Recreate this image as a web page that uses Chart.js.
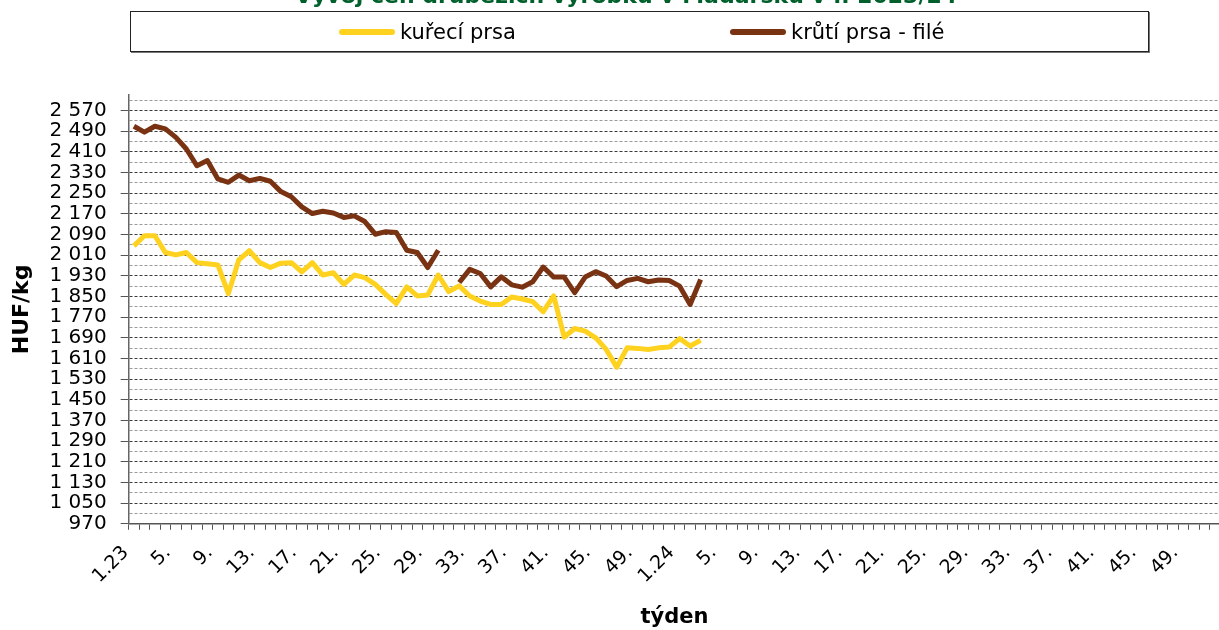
<!DOCTYPE html>
<html lang="cs">
<head>
<meta charset="utf-8">
<title>Vývoj cen drůbežích výrobků v Maďarsku</title>
<script src="https://cdn.jsdelivr.net/npm/chart.js@4/dist/chart.umd.min.js"></script>
<style>
  body { margin: 0; background: #fff; }
  #wrap { position: relative; width: 1219px; height: 630px; overflow: hidden; font-family: "DejaVu Sans", Verdana, sans-serif; }
  #chartBox { position: absolute; left: 0; top: -16px; width: 1243px; height: 646px; }
  #legend { position: absolute; left: 130px; top: 11px; width: 1017px; height: 39px; border: 1px solid #222; box-shadow: 1px 1px 0 #777; background: #fff; }
  .item { position: absolute; top: 0; height: 39px; display: flex; align-items: center; font-size: 21px; color: #000; }
  .swatch { width: 56px; height: 6px; border-radius: 3px; margin-right: 5px; }
</style>
</head>
<body>
<div id="wrap">
  <div id="chartBox"><canvas id="priceChart" width="1243" height="646"></canvas></div>
  <div id="legend">
    <div class="item" style="left:208px"><span class="swatch" style="background:#FFD21F"></span>kuřecí prsa</div>
    <div class="item" style="left:599px"><span class="swatch" style="background:#7A3312"></span>krůtí prsa - filé</div>
  </div>
</div>
<script>
// weeks 1-52 of 2023 and 1-52 of 2024
const weeks = [];
for (const yr of ['23', '24']) {
  for (let w = 1; w <= 52; w++) weeks.push(w === 1 ? '1.' + yr : w + '.');
}

const chickenBreast = [
  2046, 2085, 2085, 2020, 2011, 2020, 1981, 1977, 1972, 1861,
  1992, 2027, 1981, 1962, 1979, 1981, 1945, 1981, 1933, 1942,
  1897, 1933, 1923, 1897, 1858, 1822, 1887, 1852, 1856, 1933,
  1869, 1891, 1852, 1832, 1819, 1819, 1848, 1840, 1830, 1791,
  1852, 1693, 1726, 1716, 1690, 1645, 1576, 1651, 1649, 1645,
  1651, 1654, 1687, 1658, 1680
];

const turkeyFillet = [
  2509, 2486, 2509, 2499, 2466, 2421, 2356, 2376, 2305, 2292,
  2320, 2298, 2307, 2296, 2256, 2236, 2197, 2171, 2180, 2173,
  2156, 2162, 2140, 2091, 2101, 2098, 2029, 2020, 1962, 2029,
  null, 1904, 1955, 1939, 1887, 1926, 1895, 1886, 1907, 1964,
  1925, 1925, 1865, 1925, 1946, 1929, 1888, 1912, 1920, 1907,
  1914, 1912, 1890, 1819, 1916
];

const yTicks = [970, 1050, 1130, 1210, 1290, 1370, 1450, 1530, 1610, 1690, 1770,
  1850, 1930, 2010, 2090, 2170, 2250, 2330, 2410, 2490, 2570];

const isLabelTick = v => yTicks.includes(v);
const fmt = v => String(v).replace(/\B(?=(\d{3})+(?!\d))/g, ' ');

const font = 'DejaVu Sans';

new Chart(document.getElementById('priceChart').getContext('2d'), {
  type: 'line',
  data: {
    labels: weeks,
    datasets: [{
      label: 'kuřecí prsa',
      data: chickenBreast,
      borderColor: '#FFD21F',
      borderWidth: 5,
      pointRadius: 0,
      tension: 0,
      borderJoinStyle: 'round'
    }, {
      label: 'krůtí prsa - filé',
      data: turkeyFillet,
      borderColor: '#7A3312',
      borderWidth: 5,
      pointRadius: 0,
      tension: 0,
      spanGaps: false,
      borderJoinStyle: 'round'
    }]
  },
  options: {
    responsive: false,
    animation: false,
    devicePixelRatio: 1,
    layout: { padding: { left: 9, right: 0, top: 0, bottom: 0 } },
    plugins: {
      legend: { display: false },
      tooltip: { enabled: false },
      title: {
        display: true,
        text: 'Vývoj cen drůbežích výrobků v Maďarsku v r. 2023/24',
        color: '#00602B',
        font: { family: font, size: 22, weight: 'bold' },
        padding: { top: 0, bottom: 84.6 }
      }
    },
    scales: {
      x: {
        offset: true,
        grid: { display: true, drawOnChartArea: false, offset: true, tickLength: 6, color: '#555' },
        border: { color: '#555', width: 1.5 },
        ticks: {
          autoSkip: false,
          maxRotation: 45,
          minRotation: 45,
          padding: 12,
          labelOffset: -8,
          color: '#000',
          font: { family: font, size: 19 },
          callback: (v, i) => (i % 4 === 0 ? weeks[i] : '')
        },
        title: {
          display: true,
          text: 'týden',
          color: '#000',
          font: { family: font, size: 21, weight: 'bold' },
          padding: { top: 5, bottom: 0 }
        }
      },
      y: {
        min: 970,
        max: 2630,
        afterBuildTicks: scale => {
          const t = [];
          yTicks.forEach(v => { t.push({ value: v }); if (v + 40 < 2630) t.push({ value: v + 40 }); });
          scale.ticks = t;
        },
        grid: {
          color: c => (isLabelTick(c.tick.value) ? '#3a3a3a' : '#9a9a9a'),
          tickColor: c => (isLabelTick(c.tick.value) ? '#555' : 'rgba(0,0,0,0)'),
          tickLength: 8,
          tickBorderDash: [],
          lineWidth: 1
        },
        border: { color: '#666', width: 1.5, dash: [3, 2] },
        ticks: {
          autoSkip: false,
          padding: 14,
          color: '#000',
          font: { family: font, size: 20 },
          callback: v => (isLabelTick(v) ? fmt(v) : '')
        },
        title: {
          display: true,
          text: 'HUF/kg',
          color: '#000',
          font: { family: font, size: 22, weight: 'bold' },
          padding: { top: 0, bottom: 0 }
        }
      }
    }
  }
});
</script>
</body>
</html>
